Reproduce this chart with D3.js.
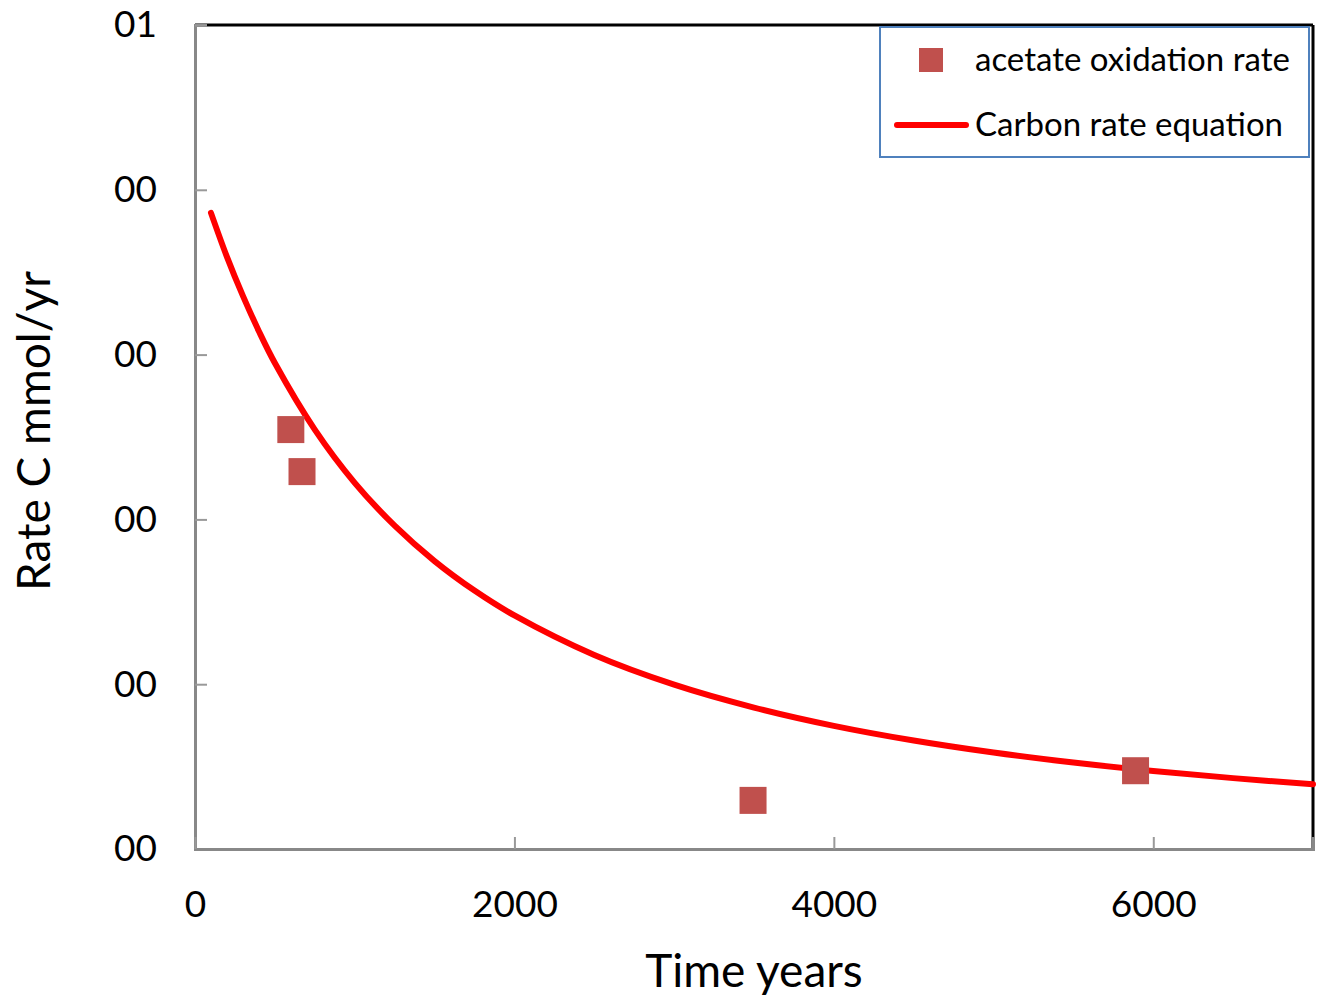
<!DOCTYPE html>
<html>
<head>
<meta charset="utf-8">
<script src="https://cdn.jsdelivr.net/npm/d3@7"></script>
<style>
  body { margin: 0; background: #fff; }
  svg text { font-family: Lato, "Open Sans", sans-serif; fill: #000; }
</style>
</head>
<body>
<div class="chart"></div>
<script>
// measured points (years, rate)
var pointYears = [600, 670, 3494, 5889];
var pointRates = [0.0509, 0.0458, 0.0059, 0.0095];

// rate equation curve
var curveYears = [100, 200, 300, 400, 500, 750, 1000, 1250, 1500, 1750, 2000, 2500, 3000, 3500, 4000, 4500, 5000, 5500, 6000, 6500, 7000];
var curveRates = [0.07720, 0.07186, 0.06712, 0.06284, 0.05898, 0.05090, 0.04444, 0.03924, 0.03494, 0.03136, 0.02834,
    0.02354, 0.01994, 0.01716, 0.01494, 0.01316, 0.01170, 0.01049, 0.00947, 0.00860, 0.00785];

var xTicks = [0, 2000, 4000, 6000];
var yTicks = [0, 0.02, 0.04, 0.06, 0.08, 0.10];
var yTickLabels = ["00", "00", "00", "00", "00", "01"];

var seriesNames = ["acetate oxidation rate", "Carbon rate equation"];

var W = 1323, H = 1000;
var mLeft = 195, mRight = 1313, mTop = 25, mBottom = 849;

var svg = d3.select('.chart').append('svg')
    .attr('width', W)
    .attr('height', H);

var x = d3.scaleLinear().domain([0, 7000]).range([mLeft, mRight]);
var y = d3.scaleLinear().domain([0, 0.1]).range([mBottom, mTop]);

// frame: top/right black, left/bottom grey
svg.append('line').attr('x1', mLeft).attr('x2', mRight).attr('y1', mTop).attr('y2', mTop)
    .attr('stroke', '#000').attr('stroke-width', 3);
svg.append('line').attr('x1', mRight).attr('x2', mRight).attr('y1', mTop).attr('y2', mBottom)
    .attr('stroke', '#000').attr('stroke-width', 3);

var yAxis = d3.axisLeft(y).tickValues(yTicks).tickSize(-12).tickPadding(38)
    .tickFormat(function (d, i) { return yTickLabels[i]; });
var gy = svg.append('g').attr('transform', 'translate(' + mLeft + ',0)').call(yAxis);

var xAxis = d3.axisBottom(x).tickValues(xTicks).tickSize(-12).tickPadding(57)
    .tickFormat(d3.format('d'));
var gx = svg.append('g').attr('transform', 'translate(0,' + mBottom + ')').call(xAxis);

[gx, gy].forEach(function (g) {
    g.select('.domain').attr('stroke', '#888').attr('stroke-width', 3);
    g.selectAll('.tick line').attr('stroke', '#999').attr('stroke-width', 2);
    g.selectAll('.tick text').style('font-size', '37px').attr('fill', '#000');
});
gx.selectAll('.tick text').attr('dy', '0.3em');

// curve
var line = d3.line()
    .x(function (d) { return x(d[0]); })
    .y(function (d) { return y(d[1]); })
    .curve(d3.curveCatmullRom.alpha(0.5));

svg.append('path')
    .datum(d3.zip(curveYears, curveRates))
    .attr('d', line)
    .attr('fill', 'none')
    .attr('stroke', '#ff0000')
    .attr('stroke-width', 6)
    .attr('stroke-linecap', 'round');

// squares
var sq = 27;
svg.selectAll('rect.pt')
    .data(d3.zip(pointYears, pointRates))
    .enter()
    .append('rect')
    .attr('class', 'pt')
    .attr('x', function (d) { return x(d[0]) - sq / 2; })
    .attr('y', function (d) { return y(d[1]) - sq / 2; })
    .attr('width', sq)
    .attr('height', sq)
    .attr('fill', '#c0504d');

// axis titles
svg.append('text')
    .attr('x', 754)
    .attr('y', 987)
    .attr('text-anchor', 'middle')
    .style('font-size', '46px')
    .text('Time years');

svg.append('text')
    .attr('transform', 'translate(50,' + 431 + ') rotate(-90)')
    .attr('text-anchor', 'middle')
    .style('font-size', '46px')
    .text('Rate C mmol/yr');

// legend
var lg = svg.append('g');
lg.append('rect')
    .attr('x', 880).attr('y', 27).attr('width', 429).attr('height', 130)
    .attr('fill', '#fff').attr('stroke', '#4f81bd').attr('stroke-width', 2);
lg.append('rect')
    .attr('x', 919).attr('y', 48).attr('width', 24).attr('height', 24)
    .attr('fill', '#c0504d');
lg.append('line')
    .attr('x1', 897).attr('x2', 966).attr('y1', 125).attr('y2', 125)
    .attr('stroke', '#ff0000').attr('stroke-width', 6).attr('stroke-linecap', 'round');
lg.selectAll('text.lg')
    .data(seriesNames)
    .enter()
    .append('text')
    .attr('class', 'lg')
    .attr('x', 975)
    .attr('y', function (d, i) { return 71 + i * 65; })
    .style('font-size', '33px')
    .text(function (d) { return d; });
</script>
</body>
</html>
